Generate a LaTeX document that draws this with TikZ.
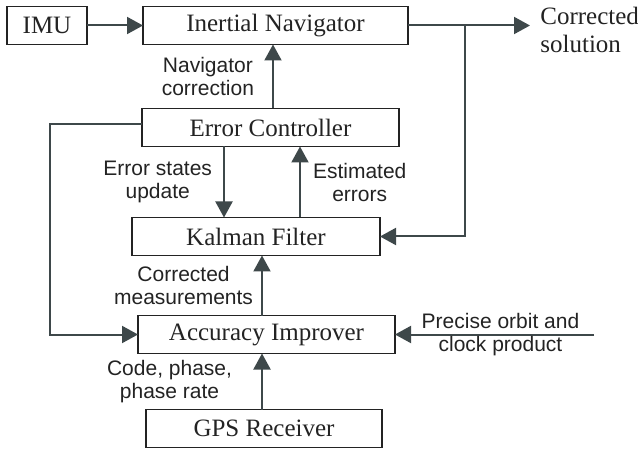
\documentclass[tikz,border=0pt]{standalone}
\usepackage{fontspec}
\setmainfont{Liberation Serif}
\setsansfont{Liberation Sans}
\usepackage{xcolor}
\usetikzlibrary{arrows.meta,positioning}
\definecolor{linegray}{RGB}{62,72,74}
\definecolor{textgray}{RGB}{35,35,35}

\begin{document}
\begin{tikzpicture}[
  x=0.5pt, y=-0.5pt,
  node distance=28pt,
  every node/.style={font=\fontsize{12.5}{14}\selectfont, text=textgray},
  blockbox/.style={draw=textgray, line width=0.8pt, minimum height=19pt, inner sep=2pt, outer sep=0pt},
  lbl/.style={font=\sffamily\fontsize{10.5}{11.5}\selectfont, align=center, inner sep=0pt},
  arr/.style={draw=linegray, line width=1pt, -{Triangle[length=8pt,width=8.5pt]}}
]
  \useasboundingbox (0,0) rectangle (638,449);

  \node[blockbox, minimum width=132.5pt] (nav) at (275.5,25.5) {Inertial Navigator};
  \node[blockbox, minimum width=40pt, left=28pt of nav] (imu) {IMU};
  \node[blockbox, minimum width=128.5pt, below=32pt of nav, xshift=-2.5pt] (ctrl) {Error Controller};
  \node[blockbox, minimum width=124pt, below=35.5pt of ctrl, xshift=-7.25pt] (kf) {Kalman Filter};
  \node[blockbox, minimum width=128.5pt, below=30pt of kf, xshift=5.25pt] (acc) {Accuracy Improver};
  \node[blockbox, minimum width=118pt, below=28pt of acc, xshift=-1.25pt] (gps) {GPS Receiver};

  \coordinate[right=28.5pt of nav.east] (split);
  \coordinate[right=61pt of nav.east] (outend);
  \coordinate[right=99.5pt of acc.east] (orbit);
  \node[right=5pt of outend, yshift=-2.25pt, align=left, inner sep=0pt] (soln) {Corrected\\solution};

  \draw[arr] (imu) -- (nav);
  \draw[arr] (nav.east) -- (outend);
  \draw[arr] (split) |- (kf.east);
  \draw[arr] ([xshift=1.25pt]ctrl.north) -- node[lbl, left=9pt] {Navigator\\correction} ([xshift=1.25pt]ctrl.north |- nav.south);
  \draw[arr] ([xshift=-23.25pt]ctrl.south) -- node[lbl, left=5.5pt] {Error states\\update} ([xshift=-23.25pt]ctrl.south |- kf.north);
  \draw[arr] ([xshift=14.75pt]ctrl.south |- kf.north) -- node[lbl, right=6pt] {Estimated\\errors} ([xshift=14.75pt]ctrl.south);
  \draw[arr] ([yshift=1.5pt]ctrl.west) -- ++(-92,0) |- (acc.west);
  \draw[arr] ([xshift=-2.25pt]acc.north) -- node[lbl, left=4pt] {Corrected\\measurements} ([xshift=-2.25pt]acc.north |- kf.south);
  \draw[arr] ([xshift=-2.25pt]acc.south |- gps.north) -- node[lbl, left=14.5pt] {Code, phase,\\phase rate} ([xshift=-2.25pt]acc.south);
  \draw[arr] (orbit) -- node[lbl, above=2.5pt, xshift=3pt] {Precise orbit and} node[lbl, below=0.5pt, xshift=3pt] {clock product} (acc.east);
\end{tikzpicture}
\end{document}
